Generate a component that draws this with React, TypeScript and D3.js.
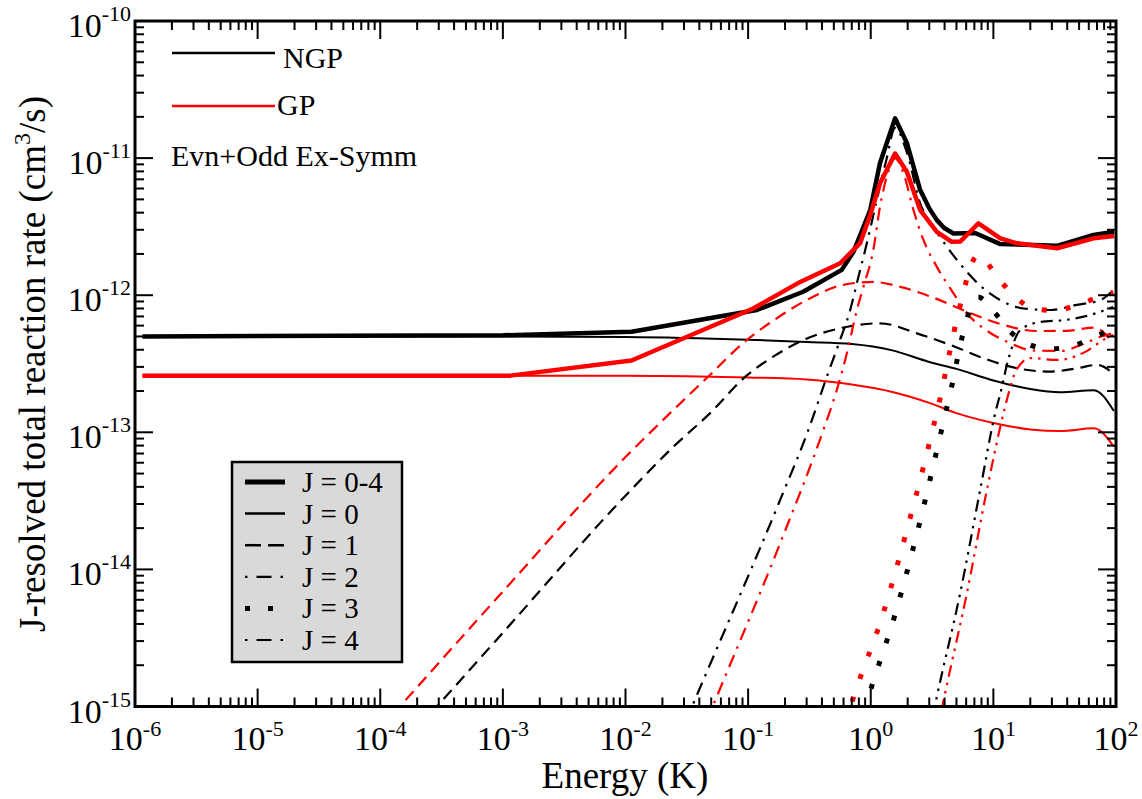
import React from 'react';
import * as d3 from 'd3';

type P = [number, number];

// ---- axis ticks ----
const X_DECADES = [-6, -5, -4, -3, -2, -1, 0, 1, 2];
const Y_DECADES = [-15, -14, -13, -12, -11, -10];

// ---- data: [energy (K), rate (cm^3/s)] ----
const NGP_TOTAL: P[] = [
  [1.15e-6, 5.0e-13], [1.0e-3, 5.1e-13], [1.12e-2, 5.42e-13], [0.118, 7.8e-13], [0.281, 1.06e-12],
  [0.58, 1.53e-12], [0.723, 2.07e-12], [0.99, 4.18e-12], [1.19, 9.2e-12], [1.58, 1.95e-11],
  [1.97, 1.29e-11], [2.53, 5.85e-12], [3.0, 4.3e-12], [3.46, 3.53e-12], [3.97, 3.09e-12],
  [4.73, 2.82e-12], [7.1, 2.84e-12], [11.4, 2.36e-12], [21.1, 2.32e-12], [33, 2.29e-12],
  [65.6, 2.75e-12], [96.7, 2.9e-12],
];
const GP_TOTAL: P[] = [
  [1.15e-6, 2.58e-13], [1.15e-3, 2.59e-13], [1.12e-2, 3.34e-13], [0.11, 8.0e-13], [0.266, 1.25e-12],
  [0.563, 1.71e-12], [0.82, 2.4e-12], [0.99, 3.85e-12], [1.19, 6.55e-12], [1.58, 1.08e-11],
  [1.97, 7.96e-12], [2.53, 4.18e-12], [3.46, 2.9e-12], [4.58, 2.45e-12], [5.36, 2.46e-12],
  [7.55, 3.34e-12], [11.4, 2.6e-12], [15.6, 2.39e-12], [33, 2.2e-12], [65.6, 2.6e-12], [96.7, 2.7e-12],
];
const NGP_J0: P[] = [
  [1.15e-6, 5.0e-13], [1e-3, 4.99e-13], [1e-2, 4.95e-13], [0.1, 4.73e-13], [0.3, 4.56e-13],
  [0.7, 4.41e-13], [1.5, 3.96e-13], [3, 3.26e-13], [5, 2.9e-13], [10, 2.39e-13], [20, 2.07e-13],
  [35, 1.96e-13], [66, 2.03e-13], [96, 1.43e-13],
];
const GP_J0: P[] = [
  [1.15e-6, 2.58e-13], [1e-2, 2.58e-13], [0.1, 2.51e-13], [0.3, 2.43e-13], [0.7, 2.23e-13],
  [1.5, 1.97e-13], [3, 1.64e-13], [5, 1.38e-13], [10, 1.17e-13], [20, 1.05e-13], [35, 1.02e-13],
  [66, 1.07e-13], [96, 7.85e-14],
];
const NGP_J1: P[] = [
  [1e-4, 3.45e-16], [1e-3, 3.45e-15], [1e-2, 3.45e-14], [0.0246, 7.85e-14], [0.049, 1.38e-13],
  [0.0975, 2.6e-13], [0.16, 3.56e-13], [0.283, 4.71e-13], [0.6, 5.81e-13], [1.19, 6.24e-13],
  [2.38, 5.27e-13], [4.44, 4.34e-13], [8.3, 3.47e-13], [15.6, 2.93e-13], [29, 2.77e-13],
  [48, 2.93e-13], [70, 3.1e-13], [95, 2.69e-13],
];
const GP_J1: P[] = [
  [1e-4, 6.9e-16], [1e-3, 6.9e-15], [1e-2, 6.6e-14], [0.0231, 1.38e-13], [0.046, 2.49e-13],
  [0.0975, 4.71e-13], [0.171, 6.78e-13], [0.301, 9.23e-13], [0.598, 1.19e-12], [1.05, 1.25e-12],
  [1.74, 1.15e-12], [3.24, 9.6e-13], [6.08, 7.58e-13], [11.4, 6.17e-13], [22.6, 5.48e-13],
  [39.8, 5.5e-13], [65.6, 5.81e-13], [95, 4.48e-13],
];
const NGP_J2: P[] = [
  [0.02, 3.1e-16], [0.0382, 1.21e-15], [0.1824, 3.21e-14], [0.31, 1.04e-13], [0.439, 2.55e-13],
  [0.562, 4.71e-13], [0.68, 7.8e-13], [0.771, 1.23e-12], [0.929, 2.39e-12], [1.12, 4.94e-12],
  [1.34, 9.7e-12], [1.58, 1.66e-11], [1.97, 1.1e-11], [2.53, 4.68e-12], [3.24, 3.16e-12],
  [4.18, 2.26e-12], [6.08, 1.48e-12], [8.3, 1.12e-12], [11.4, 9.2e-13], [17.6, 8.0e-13],
  [29, 7.8e-13], [48, 8.5e-13], [74.3, 9.2e-13], [95.5, 1.09e-12],
];
const GP_J2: P[] = [
  [0.03, 3.1e-16], [0.0521, 1.03e-15], [0.1824, 1.55e-14], [0.411, 1.04e-13], [0.529, 2.04e-13],
  [0.638, 3.76e-13], [0.771, 7.8e-13], [0.871, 1.15e-12], [1.05, 2.14e-12], [1.19, 4.43e-12],
  [1.35, 7.31e-12], [1.58, 9.97e-12], [1.85, 7.75e-12], [2.23, 4.18e-12], [2.69, 2.53e-12],
  [3.46, 1.61e-12], [4.73, 1.03e-12], [6.08, 7.38e-13], [8.3, 5.74e-13], [12.9, 4.58e-13],
  [21.2, 3.95e-13], [35.1, 3.92e-13], [54.3, 4.41e-13], [74.3, 4.97e-13], [95, 5.3e-13],
];
const NGP_J3: P[] = [
  [0.7, 4.2e-16], [0.929, 1.07e-15], [1.58, 4.7e-15], [2.5, 2.17e-14], [3.75, 1.01e-13],
  [4.58, 2.18e-13], [5.53, 4.85e-13], [6.15, 6.97e-13], [7.52, 9.7e-13], [10.0, 7.67e-13],
  [13.3, 5.57e-13], [19.1, 4.41e-13], [29, 4.06e-13], [45, 4.29e-13], [67.6, 4.97e-13], [95, 5.76e-13],
];
const GP_J3: P[] = [
  [0.55, 5.0e-16], [0.702, 1.07e-15], [1.256, 4.7e-15], [2.03, 2.14e-14], [3.15, 9.9e-14],
  [3.85, 2.13e-13], [4.2, 3.18e-13], [4.61, 4.63e-13], [5.04, 6.8e-13], [5.64, 1.0e-12],
  [6.26, 1.45e-12], [7.52, 1.96e-12], [8.3, 1.86e-12], [10.7, 1.36e-12], [14.4, 1.02e-12],
  [20.6, 8.07e-13], [31.9, 7.73e-13], [48.3, 8.5e-13], [73.6, 9.75e-13], [95, 1.05e-12],
];
const NGP_J4: P[] = [
  [2.8, 4.7e-16], [3.46, 1.18e-15], [5.36, 6.7e-15], [7.8, 3.79e-14], [10.35, 1.38e-13],
  [11.4, 1.92e-13], [13.2, 3.37e-13], [16.6, 5.57e-13], [24.1, 6.38e-13], [38.5, 6.59e-13],
  [61.7, 7.18e-13], [95, 8.2e-13],
];
const GP_J4: P[] = [
  [3.3, 5.2e-16], [4.04, 1.25e-15], [6.08, 6.7e-15], [8.85, 3.79e-14], [12.1, 1.38e-13],
  [13.3, 1.92e-13], [15.4, 2.85e-13], [19.95, 3.48e-13], [33.1, 3.37e-13], [56.1, 3.86e-13],
  [78.7, 4.71e-13], [95, 5.13e-13],
];

const LEGEND_LABELS = ['J = 0-4', 'J = 0', 'J = 1', 'J = 2', 'J = 3', 'J = 4'];

const FONT = "'Liberation Serif', 'Times New Roman', Times, serif";

type Style = { w: number; dash?: string };
const STYLE_TOTAL: Style = { w: 4.5 };
const STYLE_J0: Style = { w: 2 };
const STYLE_J1: Style = { w: 2.2, dash: '12,7' };
const STYLE_J2: Style = { w: 2.2, dash: '13,7,2.5,7' };
const STYLE_J3: Style = { w: 5, dash: '5,19' };
const STYLE_J4: Style = { w: 2.2, dash: '12,6,2.5,6,2.5,6' };

export default function App() {
  const W = 1142, H = 799;
  const L = 135, R = 1116, T = 21, B = 706.5;
  const x = d3.scaleLog().domain([1e-6, 1e2]).range([L, R]);
  const y = d3.scaleLog().domain([1e-15, 1e-10]).range([B, T]);

  const lineLin = d3.line<P>().x(d => x(d[0])).y(d => y(d[1]));
  const lineSmooth = d3.line<P>().x(d => x(d[0])).y(d => y(d[1])).curve(d3.curveMonotoneX);

  const series: { data: P[]; color: string; st: Style; smooth: boolean }[] = [
    { data: NGP_J0, color: '#000', st: STYLE_J0, smooth: true },
    { data: GP_J0, color: '#f00', st: STYLE_J0, smooth: true },
    { data: NGP_J1, color: '#000', st: STYLE_J1, smooth: true },
    { data: GP_J1, color: '#f00', st: STYLE_J1, smooth: true },
    { data: NGP_J2, color: '#000', st: STYLE_J2, smooth: true },
    { data: GP_J2, color: '#f00', st: STYLE_J2, smooth: true },
    { data: NGP_J3, color: '#000', st: STYLE_J3, smooth: true },
    { data: GP_J3, color: '#f00', st: STYLE_J3, smooth: true },
    { data: NGP_J4, color: '#000', st: STYLE_J4, smooth: true },
    { data: GP_J4, color: '#f00', st: STYLE_J4, smooth: true },
    { data: NGP_TOTAL, color: '#000', st: STYLE_TOTAL, smooth: false },
    { data: GP_TOTAL, color: '#f00', st: STYLE_TOTAL, smooth: false },
  ];

  const xMinor: number[] = [];
  for (let e = -6; e < 2; e++) for (let k = 2; k <= 9; k++) xMinor.push(k * Math.pow(10, e));
  const yMinor: number[] = [];
  for (let e = -15; e < -10; e++) for (let k = 2; k <= 9; k++) yMinor.push(k * Math.pow(10, e));

  const MAJ = 18, MIN = 9;

  const lgX = 232, lgY = 462, lgW = 170, lgH = 200;
  const rowY = (i: number) => 482 + i * 31.6;
  const legendStyles: { w: number; dash?: string }[] = [
    { w: 5 },
    { w: 2.5 },
    { w: 2.5, dash: '16,7' },
    { w: 2.2, dash: '2.5,9,15,9,2.5' },
    { w: 5, dash: '5,18' },
    { w: 2.2, dash: '2.5,9,15,9,2.5' },
  ];

  return (
    <svg width={W} height={H} style={{ position: 'absolute', left: 0, top: 0, background: '#fff' }}
      fontFamily={FONT}>
      <defs>
        <clipPath id="plotclip">
          <rect x={L} y={T} width={R - L} height={B - T} />
        </clipPath>
      </defs>
      <rect x={0} y={0} width={W} height={H} fill="#fff" />

      <g clipPath="url(#plotclip)" fill="none">
        {series.map((s, i) => (
          <path key={i} d={(s.smooth ? lineSmooth : lineLin)(s.data) || ''}
            stroke={s.color} strokeWidth={s.st.w} strokeDasharray={s.st.dash}
            strokeLinejoin="round" strokeLinecap="butt" />
        ))}
      </g>

      <g stroke="#000" strokeWidth={2}>
        {X_DECADES.map(e => {
          const px = x(Math.pow(10, e));
          return (
            <g key={'xM' + e}>
              <line x1={px} x2={px} y1={B} y2={B - MAJ} />
              <line x1={px} x2={px} y1={T} y2={T + MAJ} />
            </g>
          );
        })}
        {xMinor.map((v, i) => {
          const px = x(v);
          return (
            <g key={'xm' + i}>
              <line x1={px} x2={px} y1={B} y2={B - MIN} />
              <line x1={px} x2={px} y1={T} y2={T + MIN} />
            </g>
          );
        })}
        {Y_DECADES.map(e => {
          const py = y(Math.pow(10, e));
          return (
            <g key={'yM' + e}>
              <line x1={L} x2={L + MAJ} y1={py} y2={py} />
              <line x1={R} x2={R - MAJ} y1={py} y2={py} />
            </g>
          );
        })}
        {yMinor.map((v, i) => {
          const py = y(v);
          return (
            <g key={'ym' + i}>
              <line x1={L} x2={L + MIN} y1={py} y2={py} />
              <line x1={R} x2={R - MIN} y1={py} y2={py} />
            </g>
          );
        })}
      </g>

      <rect x={L} y={T} width={R - L} height={B - T} fill="none" stroke="#000" strokeWidth={3} />

      <g fill="#000">
        {X_DECADES.map(e => (
          <text key={'xl' + e} x={x(Math.pow(10, e))} y={750} textAnchor="middle" fontSize={34}>
            10<tspan dy={-14} fontSize={22}>{String(e)}</tspan>
          </text>
        ))}
        {Y_DECADES.map(e => (
          <text key={'yl' + e} x={131} y={y(Math.pow(10, e)) + 16} textAnchor="end" fontSize={34}>
            10<tspan dy={-16} fontSize={22}>{String(e)}</tspan>
          </text>
        ))}
      </g>

      <text x={625} y={788} textAnchor="middle" fontSize={37}>Energy (K)</text>
      <text transform="translate(45,364) rotate(-90)" textAnchor="middle" fontSize={37}>
        J-resolved total reaction rate (cm<tspan dy={-15} fontSize={24}>3</tspan><tspan dy={15}>/s)</tspan>
      </text>

      <line x1={172} x2={275} y1={53} y2={53} stroke="#000" strokeWidth={2.5} />
      <text x={283} y={68} fontSize={30}>NGP</text>
      <line x1={172} x2={275} y1={106} y2={106} stroke="#f00" strokeWidth={2.5} />
      <text x={277} y={115} fontSize={30}>GP</text>
      <text x={171} y={166} fontSize={30}>Evn+Odd Ex-Symm</text>

      <rect x={lgX} y={lgY} width={lgW} height={lgH} fill="#d9d9d9" stroke="#000" strokeWidth={2.5} />
      {LEGEND_LABELS.map((lab, i) => (
        <g key={'lg' + i}>
          <line x1={245} x2={285} y1={rowY(i)} y2={rowY(i)} stroke="#000"
            strokeWidth={legendStyles[i].w} strokeDasharray={legendStyles[i].dash} />
          <text x={302} y={rowY(i) + 10} fontSize={29}>{lab}</text>
        </g>
      ))}
    </svg>
  );
}
